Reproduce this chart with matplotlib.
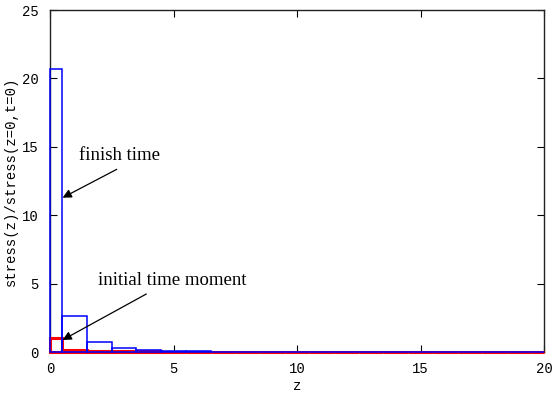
import matplotlib
matplotlib.use("Agg")
import matplotlib.pyplot as plt

# box centres along z and box heights for the two moments
z = list(range(0, 21))
finish = [20.7, 2.6, 0.75, 0.3, 0.15, 0.08, 0.05, 0.03, 0.02, 0.01,
          0, 0, 0, 0, 0, 0, 0, 0, 0, 0, 0]
initial = [1.0, 0.15, 0.1, 0.06, 0.04, 0.02, 0.01, 0.01, 0, 0,
           0, 0, 0, 0, 0, 0, 0, 0, 0, 0, 0]

mono = "Liberation Mono"
serif = "Liberation Serif"

# boxes of width 1 centred on z, cut to the range 0..20
lefts = [max(c - 0.5, 0) for c in z]
widths = [min(c + 0.5, 20) - l for c, l in zip(z, lefts)]

fig = plt.figure(figsize=(5.57, 3.97), dpi=100)
ax = fig.add_axes([50 / 557, 45 / 397, 494 / 557, 342 / 397])

ax.bar(lefts, initial, width=widths, align="edge", fill=False,
       edgecolor="red", linewidth=2.2, clip_on=False, zorder=4)
ax.bar(lefts, finish, width=widths, align="edge", fill=False,
       edgecolor="blue", linewidth=1.1, clip_on=False, zorder=5)

ax.set_xlim(0, 20)
ax.set_ylim(0, 25)
ax.set_xticks([0, 5, 10, 15, 20])
ax.set_yticks([0, 5, 10, 15, 20, 25])
ax.tick_params(direction="in", length=5, width=0.8, top=True, right=True,
               labelsize=10, pad=7)
ax.tick_params(axis="y", pad=8)
for lab in ax.get_xticklabels() + ax.get_yticklabels():
    lab.set_fontfamily(mono)
for s in ax.spines.values():
    s.set_linewidth(1.0)
    s.set_color("#222222")

ax.set_xlabel("z", fontfamily=mono, fontsize=10, labelpad=2)
ax.set_ylabel("stress(z)/stress(z=0,t=0)", fontfamily=mono, fontsize=10,
              labelpad=3)

ax.annotate("", xy=(0.51, 11.28), xytext=(2.7, 13.35),
            arrowprops=dict(arrowstyle="-|>", color="black", lw=0.9,
                            mutation_scale=13, shrinkA=0, shrinkB=0),
            zorder=6)
ax.annotate("", xy=(0.51, 0.88), xytext=(3.9, 4.24),
            arrowprops=dict(arrowstyle="-|>", color="black", lw=0.9,
                            mutation_scale=13, shrinkA=0, shrinkB=0),
            zorder=6)
ax.text(1.19, 14.4, "finish time", fontfamily=serif, fontsize=13.5,
        va="center", ha="left")
ax.text(1.93, 5.26, "initial time moment", fontfamily=serif, fontsize=13.5,
        va="center", ha="left")

fig.savefig("out.png", dpi=100)
